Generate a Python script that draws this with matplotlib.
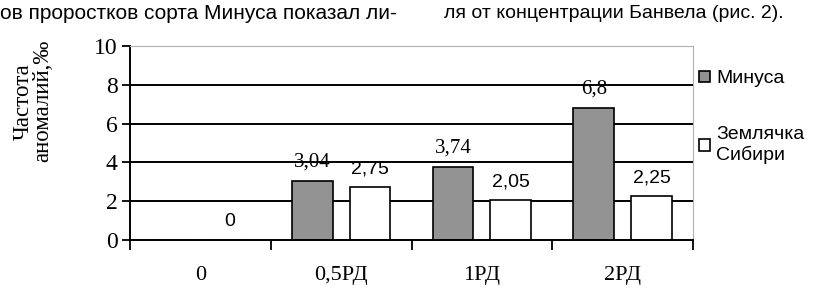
import numpy as np
import matplotlib.pyplot as plt

serif = ["Liberation Serif", "DejaVu Serif"]
sans = ["Liberation Sans", "DejaVu Sans"]

categories = ["0", "0,5РД", "1РД", "2РД"]
minusa = [0, 3.04, 3.74, 6.8]
zemlyachka = [0, 2.75, 2.05, 2.25]
minusa_labels = ["", "3,04", "3,74", "6,8"]
zemlyachka_labels = ["0", "2,75", "2,05", "2,25"]

fig = plt.figure(figsize=(8.25, 2.98), dpi=100)
ax = fig.add_axes([0.1576, 0.1946, 0.6824, 0.651])

x = np.arange(len(categories))
w = 0.29
off = 0.205

# grid lines behind the bars
for yv in [2, 4, 6, 8]:
    ax.axhline(yv, color="black", lw=1.4, zorder=1)

ax.bar(x - off, minusa, w, color="#939393", edgecolor="black", lw=1.2,
       zorder=2, label="Минуса")
ax.bar(x + off, zemlyachka, w, color="white", edgecolor="black", lw=1.2,
       zorder=2, label="Землячка\nСибири")

for xi, v, t in zip(x - off, minusa, minusa_labels):
    if t:
        ax.annotate(t, (xi, v), xytext=(0, 14), textcoords="offset points",
                    ha="center", va="center", fontsize=15, family=serif)
for xi, v, t in zip(x + off, zemlyachka, zemlyachka_labels):
    ax.annotate(t, (xi, v), xytext=(0, 13), textcoords="offset points",
                ha="center", va="center", fontsize=14, family=sans)

ax.set_xlim(-0.5, 3.5)
ax.set_ylim(0, 10)
ax.set_yticks([0, 2, 4, 6, 8, 10])
ax.set_yticklabels(["0", "2", "4", "6", "8", "10"], family=serif, fontsize=17)
ax.set_xticks(x)
ax.set_xticklabels(categories, family=serif, fontsize=16)
ax.set_xticks(np.arange(-0.5, 4, 1), minor=True)
ax.tick_params(axis="x", which="major", length=0, pad=19)
ax.tick_params(axis="x", which="minor", length=7, width=1.3, direction="out")
ax.tick_params(axis="y", length=6, width=1.3, pad=3)

ax.spines["left"].set_linewidth(1.4)
ax.spines["bottom"].set_linewidth(1.4)
ax.spines["top"].set_color("#b0b0b0")
ax.spines["right"].set_color("#b0b0b0")

fig.text(0.04, 0.66, "Частота\nаномалий,‰", family=serif, fontsize=16.5,
         rotation=90, ha="center", va="center", linespacing=0.95)

leg = ax.legend(loc="upper left", bbox_to_anchor=(1.0, 0.905), frameon=False,
                handlelength=0.55, handleheight=0.55, handletextpad=0.35,
                labelspacing=2.0, borderaxespad=0, borderpad=0.3,
                prop={"family": sans, "size": 14})

fig.text(0.0, 0.955, "ов проростков сорта Минуса показал ли-", family=sans,
         fontsize=15, va="center")
fig.text(0.538, 0.955, "ля от концентрации Банвела (рис. 2).", family=sans,
         fontsize=14, va="center")

fig.savefig("out.png", dpi=100)
